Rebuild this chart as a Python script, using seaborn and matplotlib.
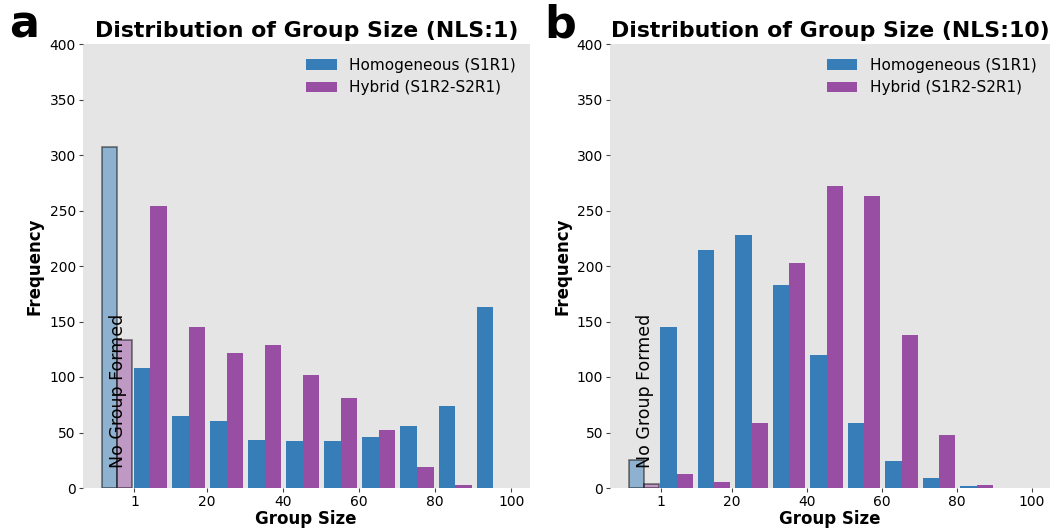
import pandas as pd
import matplotlib
matplotlib.use("Agg")
import matplotlib.pyplot as plt
import seaborn as sns

# group-size bins (lower edge of each 10-wide bin)
bin_lo = [1, 11, 21, 31, 41, 51, 61, 71, 81, 91]
mixes = ["Homogeneous (S1R1)", "Hybrid (S1R2-S2R1)"]
palette = {"Homogeneous (S1R1)": "#377eb8", "Hybrid (S1R2-S2R1)": "#984ea3"}

# NLS:1
homog_nls1 = [108, 65, 60, 43, 42, 42, 46, 56, 74, 163]
hybrid_nls1 = [254, 145, 122, 129, 102, 81, 52, 19, 3, 0]
nogroup_nls1 = [307, 133]

# NLS:10
homog_nls10 = [145, 214, 228, 183, 120, 59, 24, 9, 2, 0]
hybrid_nls10 = [13, 5, 59, 203, 272, 263, 138, 48, 3, 0]
nogroup_nls10 = [25, 4]

panels = [
    ("a", "Distribution of Group Size (NLS:1)", homog_nls1, hybrid_nls1, nogroup_nls1),
    ("b", "Distribution of Group Size (NLS:10)", homog_nls10, hybrid_nls10, nogroup_nls10),
]

sns.set_style("white", {"axes.facecolor": "#e5e5e5"})
plt.rcParams["font.family"] = ["DejaVu Sans"]
plt.rcParams.update({"text.color": "black", "axes.labelcolor": "black",
                     "xtick.color": "black", "ytick.color": "black"})

fig = plt.figure(figsize=(10.52, 5.31), dpi=100)
rects = [[82.7 / 1052, 43 / 531, 447 / 1052, 444 / 531],
         [610 / 1052, 43 / 531, 440 / 1052, 444 / 531]]
tag_x = [0.009, 0.517]

for rect, tx, (tag, title, homog, hybrid, nogroup) in zip(rects, tag_x, panels):
    ax = fig.add_axes(rect)

    df = pd.DataFrame({
        "size": [b + 4.2 for b in bin_lo] * 2,
        "count": homog + hybrid,
        "mix": [mixes[0]] * len(bin_lo) + [mixes[1]] * len(bin_lo),
    })
    sns.barplot(data=df, x="size", y="count", hue="mix", hue_order=mixes,
                palette=palette, native_scale=True, width=0.87,
                errorbar=None, saturation=1, linewidth=0, ax=ax)

    # the "no group formed" bin, drawn faded to the left of 1
    df0 = pd.DataFrame({"size": [-3.5, -3.5], "count": nogroup, "mix": mixes})
    sns.barplot(data=df0, x="size", y="count", hue="mix", hue_order=mixes,
                palette=palette, native_scale=True, width=7.8,
                errorbar=None, saturation=1, alpha=0.5, edgecolor="black",
                linewidth=1.2, legend=False, ax=ax)
    ax.text(-3.2, 18, "No Group Formed", rotation=90, ha="center",
            va="bottom", fontsize=12.5)

    ax.set_xlim(-12.6, 104.8)
    ax.set_ylim(0, 400)
    ax.set_xticks([1, 20, 40, 60, 80, 100])
    ax.set_yticks(range(0, 401, 50))
    ax.tick_params(axis="both", labelsize=10, length=3, width=0.8,
                   color="#444444", bottom=True, left=True, pad=2)
    sns.despine(ax=ax, left=True, bottom=True, top=True, right=True)
    ax.grid(False)

    ax.set_xlabel("Group Size", fontsize=12, fontweight="bold", labelpad=1)
    ax.set_ylabel("Frequency", fontsize=12, fontweight="bold", labelpad=4)
    ax.set_title(title, fontsize=15.8, fontweight="bold", pad=5)

    handles, labels = ax.get_legend_handles_labels()
    ax.legend(handles, labels, loc="upper right", frameon=False, fontsize=11)

    fig.text(tx, 0.93, tag, fontsize=32, fontweight="bold")

fig.savefig("out.png", dpi=100)
